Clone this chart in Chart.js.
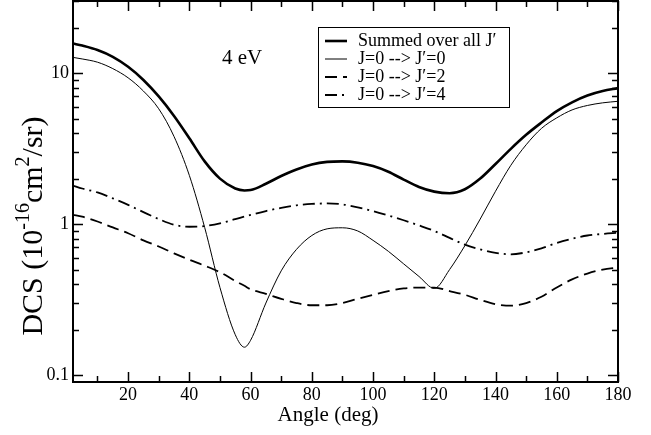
<!DOCTYPE html>
<html>
<head>
<meta charset="utf-8">
<script src="https://cdn.jsdelivr.net/npm/chart.js@4"></script>
<style>
  body { margin: 0; background: #fff; }
  canvas { display: block; }
</style>
</head>
<body>
<canvas id="grafico" width="651" height="435"></canvas>
<script>
// scattering angle (deg)
const angles = [2, 5, 10, 15, 20, 25, 30, 35, 40, 45, 50, 55, 58, 60, 65, 70, 75, 80, 85, 90,
    95, 100, 105, 110, 115, 120, 125, 130, 135, 140, 145, 150, 155, 160, 165, 170, 175, 180];

// DCS in 10^-16 cm^2/sr
const summedAll = [15.7, 15.2, 14.2, 12.8, 11.0, 9.0, 7.0, 5.2, 3.7, 2.6, 2.0, 1.72, 1.67, 1.68, 1.85, 2.08,
    2.3, 2.48, 2.58, 2.6, 2.55, 2.42, 2.22, 1.97, 1.76, 1.64, 1.6, 1.7, 2.0, 2.5, 3.15, 3.9, 4.7,
    5.6, 6.4, 7.1, 7.6, 7.95];
const j0to0 = [12.7, 12.4, 11.8, 10.7, 9.3, 7.6, 5.8, 3.8, 2.1, 0.95, 0.38, 0.185, 0.153, 0.17, 0.3, 0.49,
    0.68, 0.84, 0.93, 0.945, 0.9, 0.78, 0.66, 0.545, 0.45, 0.375, 0.5, 0.72, 1.08, 1.65, 2.45, 3.35, 4.3,
    5.05, 5.7, 6.1, 6.35, 6.5];
const j0to2 = [1.15, 1.12, 1.04, 0.95, 0.87, 0.78, 0.71, 0.64, 0.58, 0.53, 0.48, 0.42, 0.39, 0.37, 0.345, 0.32,
    0.3, 0.29, 0.29, 0.3, 0.32, 0.34, 0.36, 0.375, 0.38, 0.38, 0.36, 0.34, 0.315, 0.295, 0.288, 0.3, 0.33,
    0.38, 0.43, 0.47, 0.5, 0.515];
const j0to4 = [1.8, 1.72, 1.62, 1.48, 1.34, 1.2, 1.08, 0.99, 0.96, 0.97, 1.01, 1.08, 1.12, 1.15, 1.22, 1.28,
    1.33, 1.36, 1.37, 1.35, 1.29, 1.22, 1.14, 1.06, 0.98, 0.9, 0.81, 0.73, 0.68, 0.645, 0.63, 0.65, 0.69,
    0.75, 0.8, 0.84, 0.86, 0.875];

const seriesLabels = ['Summed over all J\u2032', 'J=0 --> J\u2032=0', 'J=0 --> J\u2032=2', 'J=0 --> J\u2032=4'];
const xTickValues = [20, 40, 60, 80, 100, 120, 140, 160, 180];
const yTickValues = [0.1, 1, 10];

const serif = '"Liberation Serif"';

const toPoints = vals => vals.map((v, i) => ({ x: angles[i], y: v }));

// marco, ticks hacia adentro, leyenda y títulos
const decoraciones = {
    id: 'decoraciones',
    afterDatasetsDraw(chart) {
        const { ctx, chartArea: a, scales: { x, y } } = chart;
        ctx.save();
        ctx.strokeStyle = '#000';
        ctx.lineWidth = 1.5;
        ctx.beginPath();
        for (let v = 10; v <= 180; v += 10) {
            const len = v % 20 === 0 ? 10 : 6;
            const px = Math.round(x.getPixelForValue(v)) + 0.5;
            ctx.moveTo(px, a.bottom); ctx.lineTo(px, a.bottom - len);
            ctx.moveTo(px, a.top); ctx.lineTo(px, a.top + len);
        }
        [0.1, 1, 10].forEach(d => {
            for (let k = 1; k <= 9; k++) {
                const v = k * d;
                if (v < y.min || v > y.max) continue;
                const len = k === 1 ? 10 : 6;
                const py = Math.round(y.getPixelForValue(v)) + 0.5;
                ctx.moveTo(a.left, py); ctx.lineTo(a.left + len, py);
                ctx.moveTo(a.right, py); ctx.lineTo(a.right - len, py);
            }
        });
        ctx.stroke();
        ctx.lineWidth = 2;
        ctx.strokeRect(a.left, a.top, a.right - a.left, a.bottom - a.top);

        // leyenda
        ctx.lineWidth = 1;
        ctx.strokeRect(318.5, 27.5, 191, 80);
        ctx.font = '18px ' + serif;
        ctx.fillStyle = '#000';
        ctx.textBaseline = 'middle';
        chart.data.datasets.forEach((ds, i) => {
            const ry = 41 + i * 18;
            ctx.save();
            ctx.lineWidth = ds.borderWidth;
            ctx.setLineDash(ds.borderDash || []);
            ctx.beginPath();
            ctx.moveTo(325, ry); ctx.lineTo(347, ry);
            ctx.stroke();
            ctx.restore();
            ctx.fillText(ds.label, 358, ry);
        });

        ctx.textBaseline = 'alphabetic';
        ctx.font = '21px ' + serif;
        ctx.fillText('4 eV', 222, 64);

        // título eje x
        ctx.textAlign = 'center';
        ctx.fillText('Angle (deg)', 328, 421);

        // título eje y con superíndices
        const partes = [['DCS (10', 30, 0], ['-16', 20, 1], ['cm', 30, 0], ['2', 20, 1], ['/sr)', 30, 0]];
        ctx.textAlign = 'left';
        let total = 0;
        partes.forEach(p => { ctx.font = p[1] + 'px ' + serif; total += ctx.measureText(p[0]).width; });
        ctx.translate(42, 226);
        ctx.rotate(-Math.PI / 2);
        let cx = -total / 2;
        partes.forEach(p => {
            ctx.font = p[1] + 'px ' + serif;
            ctx.fillText(p[0], cx, p[2] ? -13 : 0);
            cx += ctx.measureText(p[0]).width;
        });
        ctx.restore();
    }
};

const ctx = document.getElementById('grafico').getContext('2d');
new Chart(ctx, {
    type: 'line',
    data: {
        datasets: [{
            label: seriesLabels[0],
            data: toPoints(summedAll),
            borderColor: '#000',
            borderWidth: 2.6
        }, {
            label: seriesLabels[1],
            data: toPoints(j0to0),
            borderColor: '#000',
            borderWidth: 1
        }, {
            label: seriesLabels[2],
            data: toPoints(j0to2),
            borderColor: '#000',
            borderWidth: 1.8,
            borderDash: [12, 6]
        }, {
            label: seriesLabels[3],
            data: toPoints(j0to4),
            borderColor: '#000',
            borderWidth: 1.8,
            borderDash: [12, 5, 2, 5]
        }]
    },
    options: {
        responsive: false,
        animation: false,
        layout: { padding: { left: 0, right: 33, top: 1, bottom: 0 } },
        elements: {
            point: { radius: 0 },
            line: { cubicInterpolationMode: 'monotone', fill: false }
        },
        plugins: {
            legend: { display: false },
            tooltip: { enabled: false }
        },
        scales: {
            x: {
                type: 'linear',
                min: 2,
                max: 180,
                afterBuildTicks: s => { s.ticks = xTickValues.map(v => ({ value: v })); },
                afterFit: s => { s.height = 53; s.paddingLeft = 0; s.paddingRight = 0; },
                grid: { display: false, drawTicks: false },
                border: { display: false },
                ticks: {
                    color: '#000',
                    padding: 2,
                    maxRotation: 0,
                    font: { family: serif, size: 18 }
                }
            },
            y: {
                type: 'logarithmic',
                min: 0.09,
                max: 30,
                afterBuildTicks: s => { s.ticks = yTickValues.map(v => ({ value: v })); },
                afterFit: s => { s.width = 73; s.paddingTop = 0; s.paddingBottom = 0; },
                grid: { display: false, drawTicks: false },
                border: { display: false },
                ticks: {
                    color: '#000',
                    padding: 4,
                    font: { family: serif, size: 18 },
                    callback: v => String(v)
                }
            }
        }
    },
    plugins: [decoraciones]
});
</script>
</body>
</html>
